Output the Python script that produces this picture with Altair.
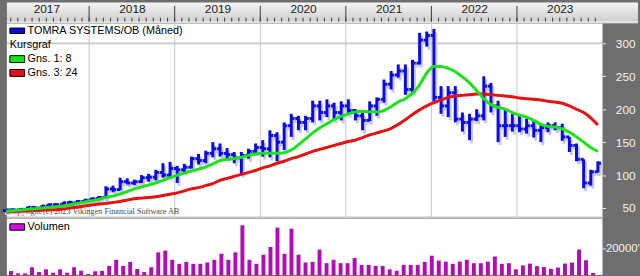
import altair as alt
import pandas as pd

# ---------------- data ----------------
months = list(range(84))  # 0 = Jan 2017 ... 83 = Dec 2023
year_labels = ["2017", "2018", "2019", "2020", "2021", "2022", "2023"]
year_label_pos = [6, 18, 30, 42, 54, 66, 78]
price_ticks = [50, 100, 150, 200, 250, 300]
vol_ticks = [20000]

open_ = [46, 47, 47, 48, 51, 50, 53, 55, 55, 58,
         58, 60, 62, 64, 66, 79, 78, 90, 88, 90,
         96, 97, 104, 100, 110, 108, 112, 125, 122, 133,
         140, 133, 131, 126, 130, 136, 142, 140, 160, 150,
         175, 186, 180, 186, 205, 195, 205, 195, 205, 198,
         190, 183, 205, 215, 238, 252, 258, 230, 270, 305,
         312, 218, 205, 225, 185, 180, 185, 190, 235, 205,
         175, 175, 175, 170, 175, 168, 172, 175, 172, 158,
         145, 124, 88, 105]
high = [48, 49, 50, 52, 53, 54, 57, 57, 59, 61,
        62, 63, 66, 68, 83, 84, 96, 95, 93, 100,
        102, 108, 118, 120, 114, 117, 128, 132, 137, 150,
        148, 141, 135, 135, 140, 148, 153, 168, 165, 180,
        193, 190, 190, 213, 213, 215, 210, 212, 215, 200,
        195, 212, 218, 245, 258, 268, 268, 275, 316, 318,
        322, 235, 235, 235, 195, 193, 200, 250, 240, 213,
        200, 193, 192, 186, 182, 178, 180, 180, 178, 158,
        148, 124, 108, 121]
low = [44, 45, 46, 47, 49, 49, 52, 53, 54, 56,
       57, 58, 60, 62, 65, 74, 77, 86, 85, 88,
       90, 92, 96, 96, 88, 104, 110, 116, 118, 127,
       128, 125, 118, 101, 125, 133, 128, 127, 121, 138,
       158, 168, 168, 180, 183, 188, 183, 183, 192, 183,
       168, 182, 190, 210, 230, 248, 222, 225, 268, 295,
       212, 193, 188, 180, 166, 153, 182, 183, 195, 150,
       158, 166, 165, 163, 157, 150, 165, 168, 152, 135,
       121, 80, 84, 104]
close = [47, 47, 48, 51, 50, 53, 55, 55, 58, 58,
         60, 62, 64, 66, 79, 78, 90, 88, 90, 96,
         97, 104, 100, 110, 108, 112, 125, 122, 133, 140,
         133, 131, 126, 130, 136, 142, 140, 160, 150, 175,
         186, 180, 186, 205, 195, 205, 195, 205, 198, 190,
         183, 205, 215, 238, 252, 258, 230, 270, 305, 312,
         218, 205, 225, 185, 180, 185, 190, 235, 205, 175,
         175, 175, 170, 175, 168, 172, 175, 172, 158, 145,
         124, 88, 105, 118]
ma8 = [45, 46, 47, 48, 49, 50, 51, 52, 53, 55,
       57, 59, 61, 63, 66, 68, 71, 75, 79, 82,
       85, 88, 92, 96, 100, 103, 106, 109, 112, 117,
       122, 124, 125, 127, 130, 132, 133, 133, 133, 134,
       138, 146, 155, 164, 172, 178, 184, 189, 193, 196,
       197, 196, 196, 198, 204, 211, 216, 224, 237, 255,
       265, 265, 262, 257, 249, 240, 228, 216, 207, 203,
       200, 195, 191, 188, 183, 177, 174, 173, 170, 165,
       158, 150, 142, 136]
ma24 = [44, 44.5, 45, 45.5, 46, 46.5, 47, 47.5, 48.5, 50,
        51.5, 53, 54.5, 56, 57, 58.5, 60, 62, 64, 65,
        66, 67, 69, 71, 73, 76, 79, 81, 84, 87,
        92, 95, 98, 101, 104, 107, 111, 114, 118, 121,
        125, 128, 132, 136, 139, 142, 145, 148, 151, 153,
        157, 161, 164, 167, 171, 177, 184, 192, 199, 205,
        210, 214, 218, 220, 221, 222, 223, 223, 222, 221,
        220, 219, 217, 216, 215, 214, 212, 211, 209, 205,
        200, 195, 187, 176]
volume = [3100, 1300, 1300, 6000, 2300, 4400, 1800, 4400, 1800, 6000,
          3300, 800, 2900, 3300, 7000, 11700, 7000, 10100, 4700, 2300,
          6000, 17400, 18700, 11700, 8600, 10100, 8600, 8600, 9600, 11700,
          16300, 11700, 17400, 38100, 11700, 8600, 15600, 21500, 36300, 16300,
          35500, 15600, 9600, 10100, 19500, 9100, 11700, 9100, 9100, 13000,
          7800, 7800, 7000, 7000, 4400, 3300, 7800, 7800, 7800, 10100,
          14800, 11100, 10300, 8600, 10300, 11700, 9100, 9100, 10300, 14200,
          8600, 9100, 4400, 7400, 8800, 6800, 6200, 4800, 5800, 8800,
          9600, 19500, 11400, 1600]

series_name = "TOMRA SYSTEMS/OB (Måned)"
copyright_text = "Copyright (c) 2023 Vikingen Financial Software AB"

df = pd.DataFrame({"m": months, "open": open_, "high": high, "low": low,
                   "close": close, "ma8": ma8, "ma24": ma24, "vol": volume})

# ---------------- styling ----------------
FONT = "Liberation Sans"
W = 604
H_PRICE = 197
H_VOL = 57
BLUE = "#0a0ae6"
SHADOW = "#c8c8e2"
GREEN = "#18e418"
RED = "#e81010"
PURPLE = "#b20cb6"

xscale = alt.Scale(domain=[0.47, 84.0], nice=False, zero=False)
yscale = alt.Scale(domain=[35, 330], nice=False, zero=False)

year_expr = "{" + ",".join(f"'{p}':'{l}'" for p, l in zip(year_label_pos, year_labels)) + "}"
x_axis = alt.Axis(orient="top", values=year_label_pos,
                  labelExpr=f"{year_expr}[''+datum.value]",
                  ticks=False, tickSize=0, domain=False, grid=False,
                  labelFont=FONT, labelFontSize=12, labelColor="#1a1a1a",
                  labelPadding=8, labelFlush=False, minExtent=22, maxExtent=22,
                  zindex=1, title=None)
y_axis = alt.Axis(orient="right", values=price_ticks, tickSize=3, tickColor="#f4f4f4",
                  tickWidth=1, domain=False, grid=False, labelFont=FONT,
                  labelFontSize=12, labelColor="#f4f4f4", labelAlign="right",
                  labelPadding=30, labelBaseline="middle", minExtent=36, maxExtent=36,
                  zindex=1, title=None)


def X(field):
    return alt.X(f"{field}:Q", scale=xscale, axis=x_axis)


def Y(field):
    return alt.Y(f"{field}:Q", scale=yscale, axis=y_axis)


one = pd.DataFrame({"d": [0]})
base = alt.Chart(df)
calc = base.transform_calculate(xc="datum.m + 0.35",
                                xl="datum.m + 0.35 - 0.45",
                                xr="datum.m + 0.35 + 0.45")

band = alt.Chart(one).mark_rect(
    color=alt.Gradient(gradient="linear",
                       stops=[alt.GradientStop(color="#8a8a8a", offset=0),
                              alt.GradientStop(color="#f2f2f2", offset=0.07),
                              alt.GradientStop(color="#d0d0d0", offset=0.88),
                              alt.GradientStop(color="#f4f4f4", offset=0.92),
                              alt.GradientStop(color="#bdbdbd", offset=1)],
                       x1=0, x2=0, y1=0, y2=1)
).encode(x=alt.value(0), x2=alt.value(640), y=alt.value(-22), y2=alt.value(0))

year_grid = base.transform_filter("datum.m % 12 == 0 && datum.m > 0").mark_rule(
    color="#c6c6c6", strokeWidth=1).encode(x=X("m"), y=alt.value(0), y2=alt.value(H_PRICE))
year_ticks = base.transform_filter("datum.m % 12 == 0 && datum.m > 0").mark_rule(
    color="#3a3a3a", strokeWidth=1).encode(x=X("m"), y=alt.value(-18), y2=alt.value(-2))
month_ticks = base.transform_filter("datum.m > 0").mark_rule(
    color="#3a3a3a", strokeWidth=1).encode(x=X("m"), y=alt.value(-6), y2=alt.value(-2))

level_line = alt.Chart(pd.DataFrame({"lvl": [300]})).mark_rule(
    color="#c8c8c8", strokeWidth=2).encode(y=Y("lvl"))

copyright_mark = alt.Chart(one).mark_text(
    text=copyright_text, font="Liberation Serif", fontSize=8.3, color="#4a4a4a",
    align="left", baseline="middle").encode(x=alt.value(1), y=alt.value(191))

sh_v = calc.mark_rule(color=SHADOW, strokeWidth=3, xOffset=2, yOffset=3, y2Offset=3).encode(
    x=X("xc"), y=Y("low"), y2="high:Q")
sh_o = calc.mark_rule(color=SHADOW, strokeWidth=3, xOffset=2, x2Offset=2, yOffset=3).encode(
    x=X("xl"), x2="xc:Q", y=Y("open"))
sh_c = calc.mark_rule(color=SHADOW, strokeWidth=3, xOffset=2, x2Offset=2, yOffset=3).encode(
    x=X("xc"), x2="xr:Q", y=Y("close"))

bar_v = calc.mark_rule(color=BLUE, strokeWidth=3).encode(x=X("xc"), y=Y("low"), y2="high:Q")
bar_o = calc.mark_rule(color=BLUE, strokeWidth=3).encode(x=X("xl"), x2="xc:Q", y=Y("open"))
bar_c = calc.mark_rule(color=BLUE, strokeWidth=3).encode(x=X("xc"), x2="xr:Q", y=Y("close"))

line8 = calc.mark_line(color=GREEN, strokeWidth=3, interpolate="monotone").encode(
    x=X("xc"), y=Y("ma8"))
line24 = calc.mark_line(color=RED, strokeWidth=3, interpolate="monotone").encode(
    x=X("xc"), y=Y("ma24"))

separator = alt.Chart(one).mark_rule(color="#c4c4c4", strokeWidth=2).encode(
    x=alt.value(0), x2=alt.value(W), y=alt.value(H_PRICE - 0.5))


def legend_box(color, y0, y1):
    return alt.Chart(one).mark_rect(color=color, stroke="#000000", strokeWidth=1).encode(
        x=alt.value(3), x2=alt.value(18), y=alt.value(y0), y2=alt.value(y1))


def legend_text(txt, x, y):
    return alt.Chart(one).mark_text(text=txt, font=FONT, fontSize=11, color="#000000",
                                    align="left", baseline="middle").encode(
        x=alt.value(x), y=alt.value(y))


legend = [legend_box(BLUE, 4.5, 10), legend_text(series_name, 21, 7.5),
          legend_text("Kursgraf", 3, 21.5),
          legend_box(GREEN, 32.5, 39.5), legend_text("Gns. 1: 8", 21, 36),
          legend_box(RED, 46.5, 53.5), legend_text("Gns. 3: 24", 21, 50)]

price = alt.layer(band, year_grid, year_ticks, month_ticks, level_line, copyright_mark,
                  sh_v, sh_o, sh_c, bar_v, bar_o, bar_c, line24, line8, separator,
                  *legend).properties(width=W, height=H_PRICE)

vol_axis = alt.Axis(orient="right", values=vol_ticks, format="d",
                    labelExpr="datum.label + \"'\"", tickSize=3, tickColor="#f4f4f4",
                    domain=False, grid=False, labelFont=FONT, labelFontSize=11.5,
                    labelColor="#f4f4f4", labelAlign="left", labelPadding=0,
                    labelBaseline="middle", minExtent=36, maxExtent=36, title=None)

vol_bars = calc.mark_bar(color=PURPLE, size=4).encode(
    x=alt.X("xc:Q", scale=xscale, axis=None),
    y=alt.Y("vol:Q", scale=alt.Scale(domain=[0, 43000], nice=False), axis=vol_axis))
vol_box = alt.Chart(one).mark_rect(color="#d010d8", stroke="#000000", strokeWidth=1).encode(
    x=alt.value(3), x2=alt.value(18), y=alt.value(5), y2=alt.value(11.5))
vol_text = alt.Chart(one).mark_text(text="Volumen", font=FONT, fontSize=11, color="#000000",
                                    align="left", baseline="middle").encode(
    x=alt.value(21), y=alt.value(8.5))

vol = alt.layer(vol_bars, vol_box, vol_text).properties(width=W, height=H_VOL)

chart = alt.vconcat(price, vol, spacing=0).resolve_scale(
    x="independent", y="independent").properties(
    padding=0, background="#6e6e6e").configure_view(stroke=None, fill="#ffffff")

chart.save("out.html", embed_options={"renderer": "svg", "actions": False})
